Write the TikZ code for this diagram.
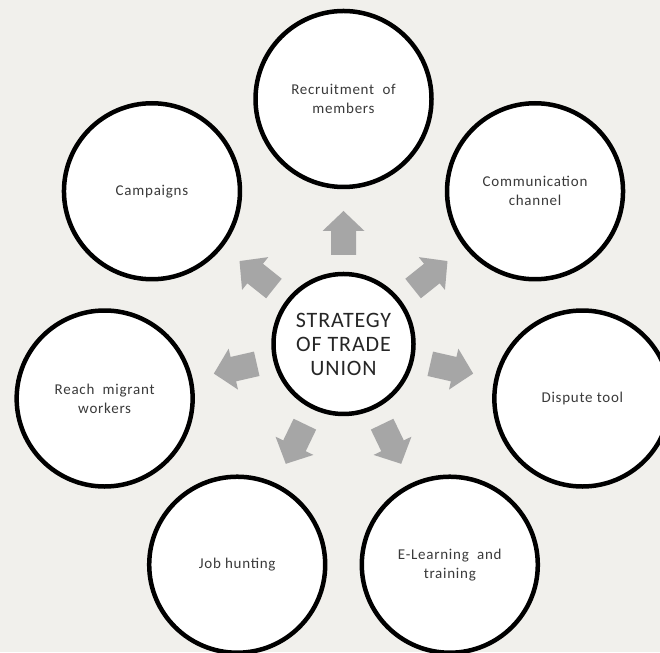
\documentclass[tikz,border=0pt]{standalone}
\usepackage{fontspec}
\setmainfont{Carlito}
\usetikzlibrary{calc}
\definecolor{bgc}{HTML}{F1F0EC}
\definecolor{arrg}{HTML}{A6A6A6}
\definecolor{txt}{HTML}{3A3A3A}
\begin{document}
\begin{tikzpicture}[x=1pt,y=1pt,
  outer/.style={circle,draw=black,fill=white,line width=4.5pt,minimum size=176pt,inner sep=0pt,
    align=center,font=\fontsize{15}{19}\selectfont\addfontfeature{LetterSpace=5},text=txt},
  hub/.style={circle,draw=black,fill=white,line width=4.5pt,minimum size=140pt,inner sep=0pt,
    align=center,font=\fontsize{22}{24}\selectfont\addfontfeature{LetterSpace=4},text=black!85},
  blockarrow/.style={fill=arrg}]
\fill[bgc] (0,0) rectangle (660,652);
\useasboundingbox (0,0) rectangle (660,652);
\node[hub] (c) at (343.5,308) {STRATEGY\\OF TRADE\\UNION};
\foreach \a in {90,38.571,-12.857,-64.286,-115.714,-167.143,141.429}{
  \fill[blockarrow,shift={(c.center)},rotate=\a]
    (89,-12.5) -- (113,-12.5) -- (113,-21) -- (133,0) -- (113,21) -- (113,12.5) -- (89,12.5) -- cycle;
}
\node[outer] (rec) at ($(c.center)+(90:245)$) {Recruitment\ \ of\\members};
\node[outer] (com) at ($(c.center)+(38.571:245)$) {Communication\\channel};
\node[outer] (dis) at ($(c.center)+(-12.857:245)$) {Dispute tool};
\node[outer] (ele) at ($(c.center)+(-64.286:245)$) {E-Learning\ \ and\\training};
\node[outer] (job) at ($(c.center)+(-115.714:245)$) {Job hunting};
\node[outer] (mig) at ($(c.center)+(-167.143:245)$) {Reach\ \ migrant\\workers};
\node[outer] (cam) at ($(c.center)+(141.429:245)$) {Campaigns};
\end{tikzpicture}
\end{document}
